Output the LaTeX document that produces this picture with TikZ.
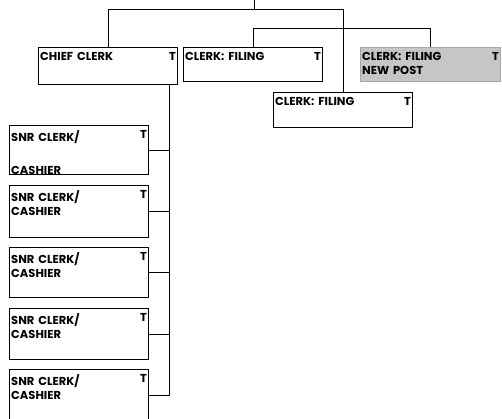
\documentclass[tikz,border=0pt]{standalone}
\usepackage{fontspec}
\setmainfont{Poppins}[WordSpace=1.6]
\usepackage{tikz}
\usetikzlibrary{positioning,calc}
\tikzset{
  post/.style={draw, line width=1pt, anchor=north west, inner sep=0pt,
               minimum width=139pt},
  newpost/.style={post, fill=gray!45, draw=gray!70},
  tag/.style={font=\fontsize{11.5}{14}\selectfont\bfseries, inner xsep=2pt,
              inner ysep=2pt, align=left},
  title/.style={label={[tag, anchor=north west, yshift=-3pt]north west:#1},
                label={[tag, anchor=north east, yshift=-3pt]north east:T}},
  link/.style={line width=0.8pt},
}

\begin{document}
\begin{tikzpicture}[x=1pt, y=-1pt]
  \useasboundingbox (0,0) rectangle (502,418);
  \clip (0,0) rectangle (502,418);
  % top row
  \node[post, minimum height=37pt, title={CHIEF CLERK}] (cc) at (38,47) {};
  \node[post, minimum height=34pt, title={CLERK:\ FILING}] (cf1) at (183,47) {};
  \node[newpost, minimum width=140pt, minimum height=34pt,
        title={CLERK:\ FILING\\NEW POST}] (cfn) at (360,47) {};
  \node[post, minimum height=35pt, title={CLERK:\ FILING}] (cf2) at (273,92) {};
  % snr clerks
  \node[post, minimum height=49pt, title={SNR CLERK/\\[19pt]CASHIER}] (s1) at (9,125) {};
  \node[post, minimum height=52pt, title={SNR CLERK/\\CASHIER}] (s2) at (9,185) {};
  \node[post, minimum height=50pt, title={SNR CLERK/\\CASHIER}] (s3) at (9,247) {};
  \node[post, minimum height=51pt, title={SNR CLERK/\\CASHIER}] (s4) at (9,308) {};
  \node[post, minimum height=52pt, title={SNR CLERK/\\CASHIER}] (s5) at (9,369) {};
  % lines
  \coordinate (top) at (254,0);
  \coordinate (bus) at (254,9);
  \draw[link] (top) -- (bus) -| (cc.north);
  \draw[link] (bus) -| (cf2.north);
  \draw[link] (cf1.north) -- ++(0,-19) -| (cfn.north);
  \coordinate (spine) at ([xshift=-9pt]cc.south east);
  \draw[link] (spine) |- (s5.east);
  \foreach \i in {1,...,4}
    \draw[link] (s\i.east) -- (spine |- s\i.east);
\end{tikzpicture}
\end{document}
